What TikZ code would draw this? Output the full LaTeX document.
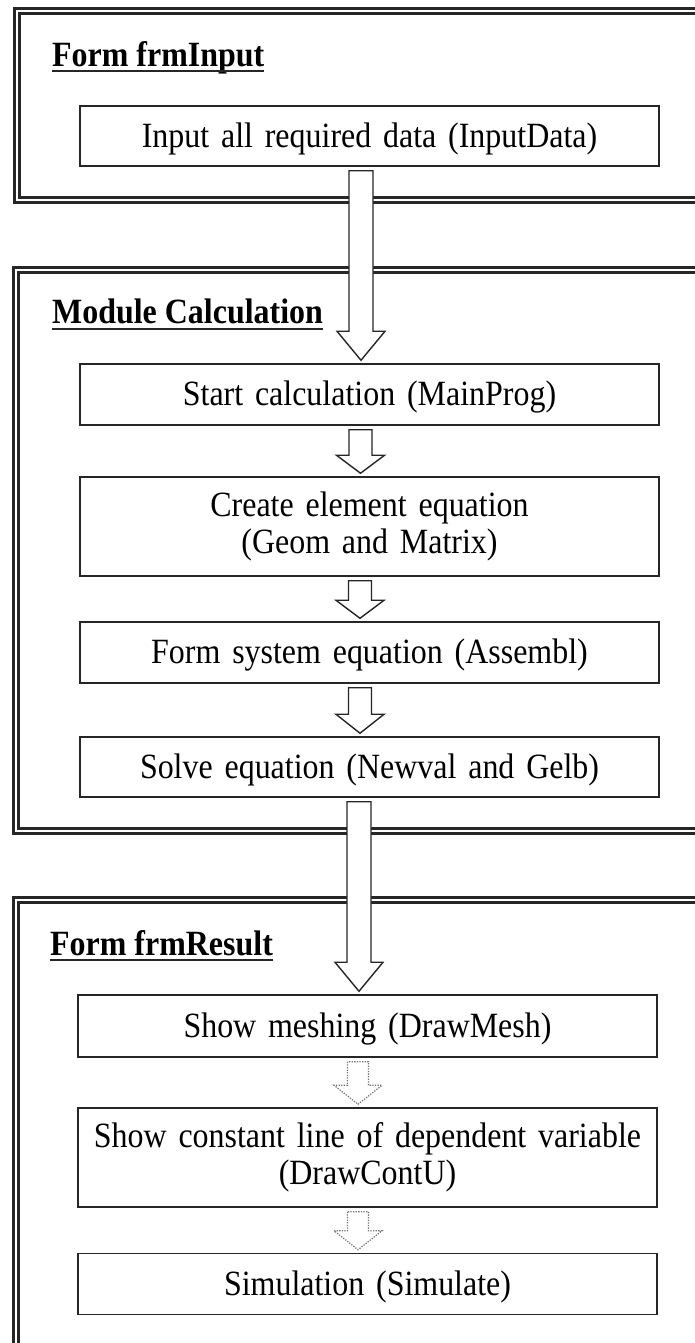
\documentclass[tikz,border=0pt]{standalone}
\usepackage{fontspec}
\setmainfont{Liberation Serif}[FakeStretch=0.9, WordSpace=0.75]
\newfontfamily\titlefont{Liberation Serif}[FakeStretch=0.9]
\usetikzlibrary{calc}
\tikzset{
  stepbox/.style={draw=black!85, line width=1.5pt, fill=white, inner sep=0pt,
    minimum width=579pt, text width=570pt, align=center,
    font=\fontsize{35.5}{37}\selectfont},
  onebox/.style={stepbox, text height=22.4pt, text depth=0pt},
  titletext/.style={inner sep=0pt, anchor=base west, font=\titlefont\bfseries\fontsize{35.5}{37}\selectfont},
  uline/.style={draw=black!85, line width=2pt},
  frameline/.style={draw=black!85, line width=2.2pt},
  solidarrow/.style={draw=black!85, line width=1.4pt, fill=white, line join=miter},
  dotarrow/.style={draw=black!55, line width=1.2pt, dash pattern=on 1.3pt off 1.3pt, fill=white}
}
% #1 style, #2 source node, #3 target node, #4 head length, #5 x offset, #6 shaft half width
\newcommand\blockarrow[6]{%
  \path ($(#2.south)+(#5,0)$) coordinate (bas);
  \path ($(bas |- #3.north)+(0,-3)$) coordinate (tip);
  \draw[#1] ($(bas)+(-#6,4)$) -- ($(tip)+(-#6,-#4)$) -- ($(tip)+(-24,-#4)$) -- (tip)
     -- ($(tip)+(24,-#4)$) -- ($(tip)+(#6,-#4)$) -- ($(bas)+(#6,4)$) -- cycle;
}
\begin{document}
\begin{tikzpicture}[x=1pt,y=-1pt]
\useasboundingbox (0,0) rectangle (695,1343);
\clip (0,0) rectangle (695,1343);
\fill[white] (0,0) rectangle (695,1343);

% frames
\draw[frameline] (720,8.5) -- (14.5,8.5) -- (14.5,202.5) -- (720,202.5);
\draw[frameline] (720,13.5) -- (19.5,13.5) -- (19.5,197.5) -- (720,197.5);
\draw[frameline] (720,267.5) -- (13.5,267.5) -- (13.5,833.5) -- (720,833.5);
\draw[frameline] (720,272.5) -- (18.5,272.5) -- (18.5,828.5) -- (720,828.5);
\draw[frameline] (720,897.5) -- (13.5,897.5) -- (13.5,1360);
\draw[frameline] (720,902.5) -- (18.5,902.5) -- (18.5,1360);

% titles
\node[titletext] (t1) at (52,67) {Form frmInput};
\node[titletext] (t2) at (52,323) {Module Calculation};
\node[titletext] (t3) at (50,955) {Form frmResult};
\draw[uline] ($(t1.base west)+(0,4.5)$) -- ($(t1.base east)+(0,4.5)$);
\draw[uline] ($(t2.base west)+(0,5.5)$) -- ($(t2.base east)+(0,5.5)$);
\draw[uline] ($(t3.base west)+(0,5)$) -- ($(t3.base east)+(0,5)$);

% boxes
\node[onebox, minimum height=60pt] (b1) at (369.5,136) {Input all required data (InputData)};
\node[onebox, minimum height=61pt] (b2) at (369.5,394.5) {Start calculation (MainProg)};
\node[stepbox, minimum height=99pt] (b3) at (369.5,526.5) {Create element equation\\(Geom and Matrix)};
\node[onebox, minimum height=61pt] (b4) at (369.5,652.5) {Form system equation (Assembl)};
\node[onebox, minimum height=60pt] (b5) at (369.5,767) {Solve equation (Newval and Gelb)};
\node[onebox, minimum height=62pt] (b6) at (367.5,1026) {Show meshing (DrawMesh)};
\node[stepbox, minimum height=99pt] (b7) at (367.5,1157.5) {Show constant line of dependent variable\\(DrawContU)};
\node[onebox, minimum height=61pt] (b8) at (367.5,1284) {Simulation (Simulate)};

% arrows
\blockarrow{solidarrow}{b1}{b2}{29}{-8.5}{12}
\blockarrow{solidarrow}{b2}{b3}{18}{-9}{11.5}
\blockarrow{solidarrow}{b3}{b4}{18}{-9.5}{11.5}
\blockarrow{solidarrow}{b4}{b5}{19}{-9.5}{11.5}
\blockarrow{solidarrow}{b5}{b6}{29}{-10.5}{12}
\blockarrow{dotarrow}{b6}{b7}{19}{-9.5}{10.5}
\blockarrow{dotarrow}{b7}{b8}{19}{-9.5}{10.5}
\end{tikzpicture}
\end{document}
